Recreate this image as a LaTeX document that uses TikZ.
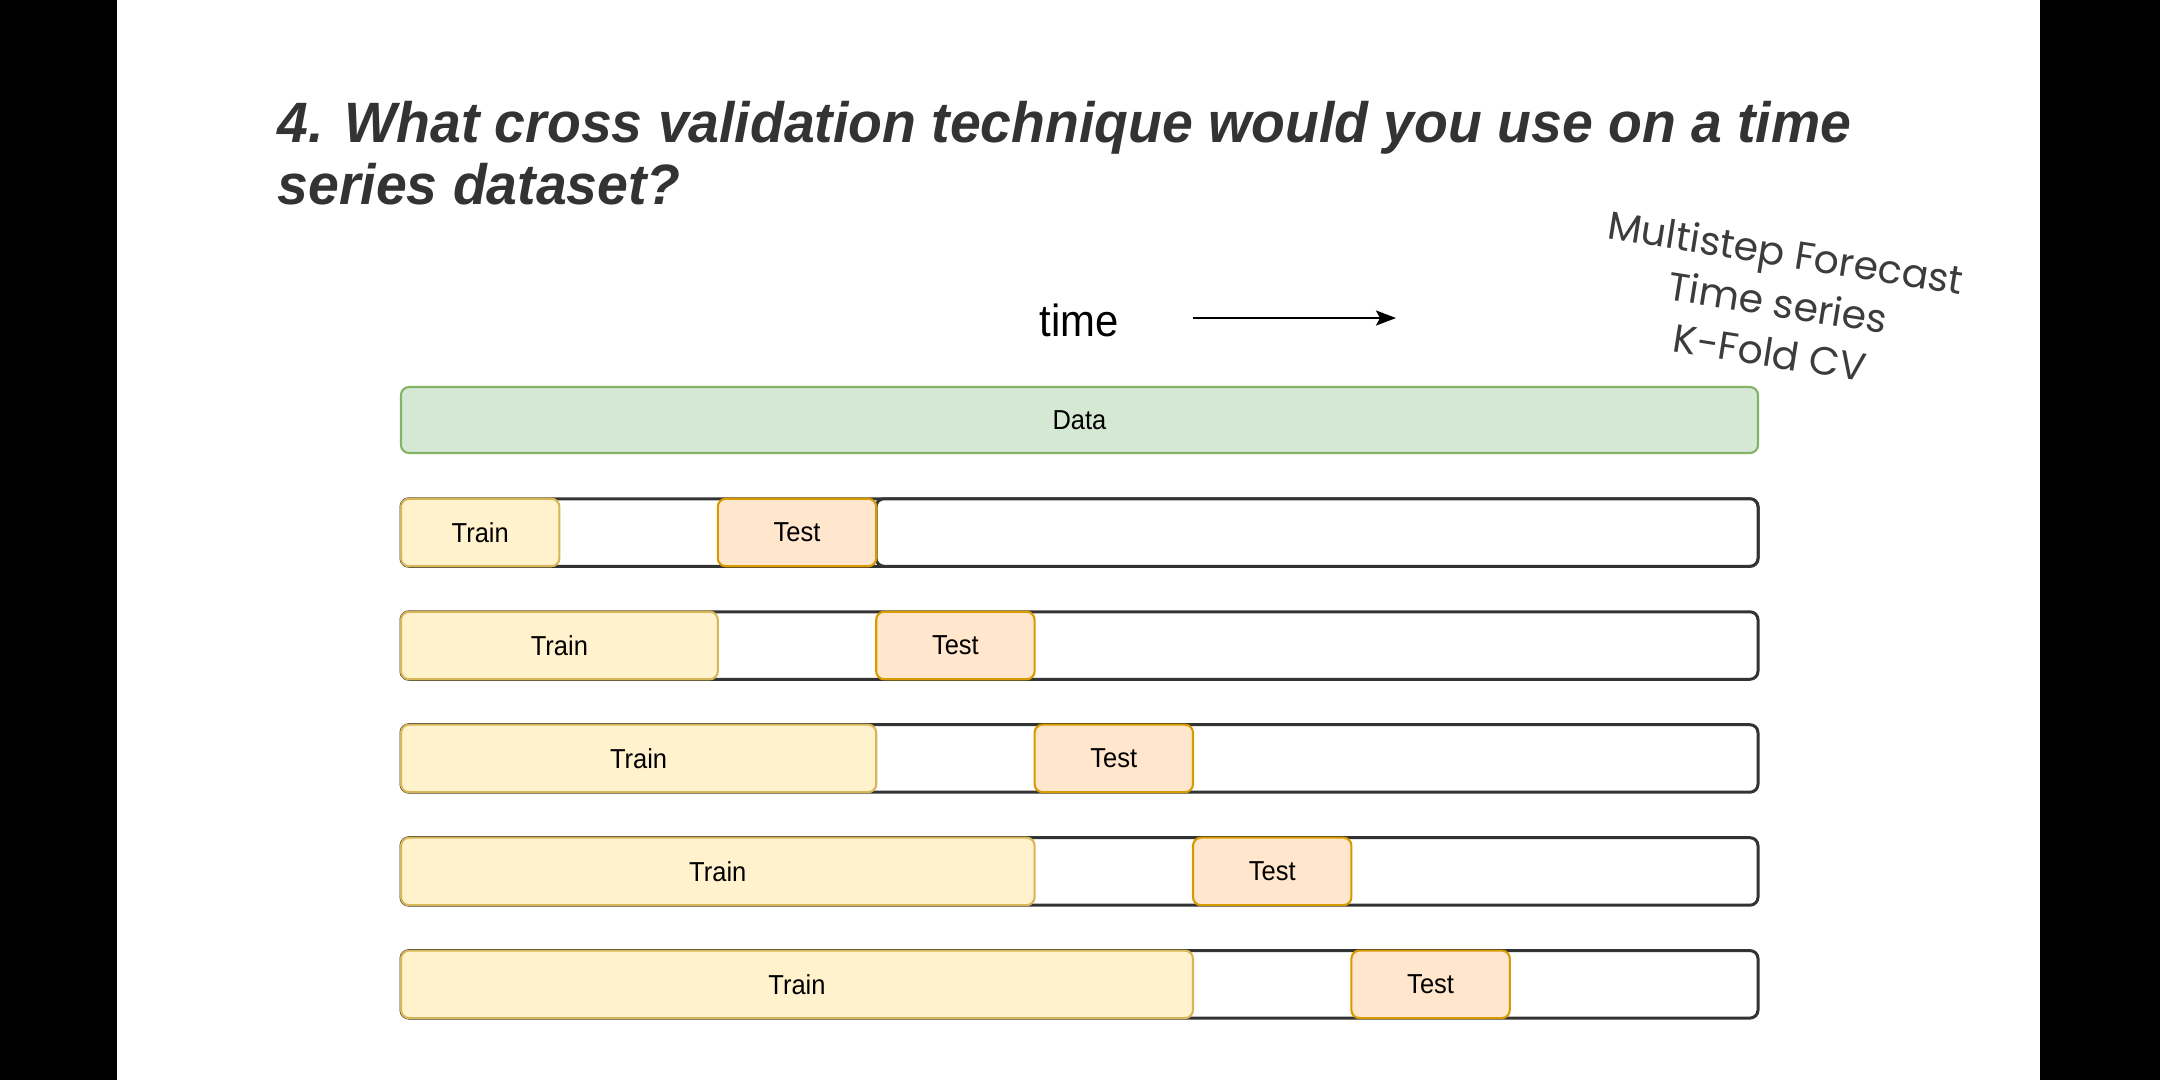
\documentclass[tikz,border=0pt]{standalone}
\usepackage{fontspec}
\usepackage{graphicx}
\setmainfont{Liberation Sans}
\newfontfamily\popfont{Poppins}
\usetikzlibrary{arrows.meta}
\definecolor{titlegray}{HTML}{333333}
\definecolor{notegray}{HTML}{3C3C3C}
\definecolor{datafill}{HTML}{D5E8D4}
\definecolor{datadraw}{HTML}{82B366}
\definecolor{trainfill}{HTML}{FFF2CC}
\definecolor{traindraw}{HTML}{D6B656}
\definecolor{testfill}{HTML}{FFE6CC}
\definecolor{testdraw}{HTML}{D79B00}
\definecolor{outerdraw}{HTML}{333333}
\tikzset{
  barbase/.style={inner sep=0pt, outer sep=0pt, minimum height=6.75mm, rounded corners=0.8mm, anchor=west,
    font=\fontsize{7.8}{9}\selectfont},
  outerbar/.style={barbase, draw=outerdraw, fill=white, line width=0.85pt},
  databar/.style={barbase, draw=datadraw, fill=datafill, line width=0.6pt, minimum height=6.6mm},
  trainbar/.style={barbase, draw=traindraw, fill=trainfill, line width=0.6pt},
  testbar/.style={barbase, draw=testdraw, fill=testfill, line width=0.6pt},
  titlestyle/.style={anchor=base west, inner sep=0pt, text=titlegray, font=\fontsize{16.2}{17.6}\selectfont\bfseries\itshape},
}
\begin{document}
\begin{tikzpicture}[x=0.1mm, y=-0.1mm]
\useasboundingbox (0,0) rectangle (2160,1080);
\fill[black] (0,0) rectangle (2160,1080);
\fill[white] (117,0) rectangle (2040,1080);
% title
\node[titlestyle] (t1) at (277,142) {\scalebox{0.972}[1]{4. What cross validation technique would you use on a time}};
\node[titlestyle] (t2) at (277,204) {\scalebox{0.972}[1]{series dataset?}};
% note
\node[rotate=-9, align=center, text=notegray, inner sep=0pt,
      font=\popfont\fontsize{11.2}{14.4}\selectfont] (note) at (1778,302)
  {Multistep Forecast\\Time series\\K-Fold CV};
% time arrow
\node[anchor=base, inner sep=0pt, font=\fontsize{12.8}{14}\selectfont] (time) at (1079,336) {\scalebox{0.93}[1]{time}};
\coordinate (a0) at (1193,318);
\coordinate (a1) at (1396,318);
\draw[line width=0.6pt, -{Stealth[length=2mm, width=1.5mm, inset=0.4mm]}] (a0) -- (a1);
% data
\node[databar, minimum width=135.7mm] (data) at (401,420) {\scalebox{0.93}[1]{Data}};
% rows
\foreach \i/\yc in {1/532.5, 2/645.5, 3/758.4, 4/871.4, 5/984.3} {
  \node[outerbar, minimum width=135.7mm] (row\i) at (401,\yc) {};
}
\node[outerbar, minimum width=88.2mm] (rest1) at (876,532.5) {};
\foreach \i/\yc in {1/532.5, 2/645.5, 3/758.4, 4/871.4, 5/984.3} {
  \node[trainbar, minimum width={\i*15.84mm}] (train\i) at (401,\yc) {\scalebox{0.93}[1]{Train}};
  \node[testbar, minimum width=15.84mm] (test\i) at ({401+(\i+1)*158.4},\yc) {\scalebox{0.93}[1]{Test}};
}
\end{tikzpicture}
\end{document}
